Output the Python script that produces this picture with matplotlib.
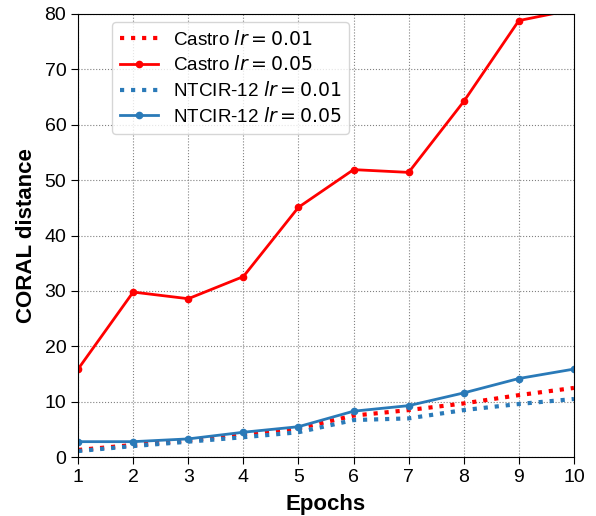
import matplotlib
matplotlib.use("Agg")
import matplotlib.pyplot as plt

plt.rcParams["font.family"] = ["Liberation Sans", "DejaVu Sans"]

epochs = [1, 2, 3, 4, 5, 6, 7, 8, 9, 10]
castro_001 = [1.3, 2.2, 3.0, 4.2, 5.2, 7.5, 8.5, 9.7, 11.2, 12.5]
castro_005 = [15.9, 29.8, 28.6, 32.6, 45.1, 51.9, 51.4, 64.2, 78.8, 80.8]
ntcir_001 = [1.1, 2.0, 2.8, 3.6, 4.5, 6.7, 7.0, 8.5, 9.6, 10.5]
ntcir_005 = [2.8, 2.8, 3.3, 4.5, 5.5, 8.3, 9.3, 11.6, 14.2, 15.9]

blue = "#2a7ab8"

fig = plt.figure(figsize=(5.96, 5.16), dpi=100)
ax = fig.add_axes([0.131, 0.114, 0.832, 0.859])

ax.plot(epochs, castro_001, color="red", linestyle=":", linewidth=3,
        label=r"Castro $lr=0.01$")
ax.plot(epochs, castro_005, color="red", linestyle="-", linewidth=2,
        marker="o", markersize=4.5, label=r"Castro $lr=0.05$")
ax.plot(epochs, ntcir_001, color=blue, linestyle=":", linewidth=3,
        label=r"NTCIR-12 $lr=0.01$")
ax.plot(epochs, ntcir_005, color=blue, linestyle="-", linewidth=2,
        marker="o", markersize=4.5, label=r"NTCIR-12 $lr=0.05$")

ax.set_xlim(1, 10)
ax.set_ylim(0, 80)
ax.set_xticks(epochs)
ax.set_yticks(range(0, 81, 10))
ax.tick_params(labelsize=14, length=5)
ax.grid(True, linestyle=":", color="grey", linewidth=0.8)
ax.set_xlabel("Epochs", fontsize=16, fontweight="bold", labelpad=6)
ax.set_ylabel("CORAL distance", fontsize=16, fontweight="bold", labelpad=5)
ax.legend(loc="upper left", fontsize=13.6, bbox_to_anchor=(0.05, 1.003),
          labelspacing=0.36)

fig.savefig("out.png", dpi=100)
